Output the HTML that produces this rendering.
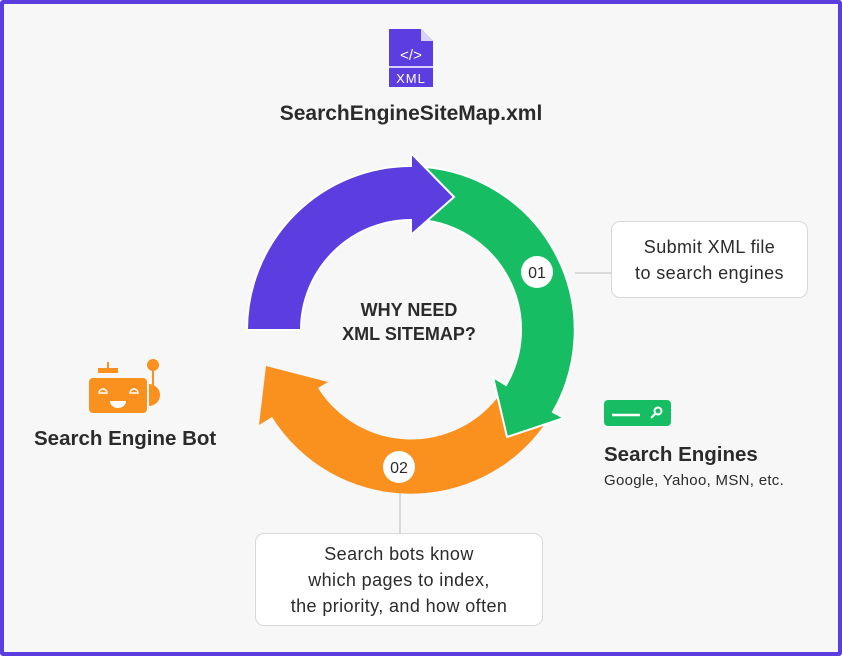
<!DOCTYPE html>
<html><head><meta charset="utf-8"><style>
html,body{margin:0;padding:0}
body{width:842px;height:656px;overflow:hidden;font-family:"Liberation Sans",sans-serif;}
.frame{position:absolute;left:0;top:0;width:834px;height:648px;border:4px solid #5b3de0;background:#f7f7f7;border-radius:3px}
.t{position:absolute;color:#2b2b2b;white-space:nowrap}
.box{position:absolute;border:1px solid #d8d8d8;border-radius:9px;background:#fff;text-align:center;color:#2b2b2b;font-size:18px;letter-spacing:0.4px;line-height:26px;box-sizing:border-box}
</style></head><body>
<div class="frame"></div>
<svg width="842" height="656" style="position:absolute;left:0;top:0">
<line x1="575" y1="273" x2="611" y2="273" stroke="#cfcfcf" stroke-width="1.5"/>
<line x1="400" y1="488" x2="400" y2="533" stroke="#cfcfcf" stroke-width="1.5"/>
<path d="M545,424 A164,164 0 0 1 272,417 L259,425 L266,366 L328,382 L318,388 A110,110 0 0 0 501,393 Z" fill="#fa901e"/>
<path d="M425,167 A164,164 0 0 1 553,412 L564,418 L507,437 L493,377 L506,385 A110,110 0 0 0 421,220 Z" fill="#17bd62" stroke="#fff" stroke-width="2" stroke-linejoin="miter"/>
<path d="M247,330 A164,164 0 0 1 411,166 L411,153 L454,197 L411,235 L411,220 A110,110 0 0 0 301,330 Z" fill="#5b3de0" stroke="#fff" stroke-width="2"/>
<circle cx="537" cy="272" r="16" fill="#fff"/>
<text x="537" y="278" text-anchor="middle" font-size="16" fill="#2b2b2b" font-family="Liberation Sans">01</text>
<circle cx="399" cy="467" r="16" fill="#fff"/>
<text x="399" y="473" text-anchor="middle" font-size="16" fill="#2b2b2b" font-family="Liberation Sans">02</text>
<text x="409" y="316" text-anchor="middle" font-size="18" font-weight="bold" fill="#2b2b2b" font-family="Liberation Sans">WHY NEED</text>
<text x="409" y="340" text-anchor="middle" font-size="18" font-weight="bold" fill="#2b2b2b" font-family="Liberation Sans">XML SITEMAP?</text>
<!-- xml icon -->
<path d="M389,29 H421 L433,41 V87 H389 Z" fill="#5b3de0"/>
<path d="M421,29 V41 H433 Z" fill="#d9d2fa"/>
<line x1="389" y1="67" x2="433" y2="67" stroke="#fff" stroke-width="1.5"/>
<text x="411" y="60" text-anchor="middle" font-size="15" fill="#fff" font-family="Liberation Sans">&lt;/&gt;</text>
<text x="411" y="83" text-anchor="middle" font-size="13" fill="#fff" font-family="Liberation Sans" letter-spacing="1">XML</text>
<!-- bot -->
<rect x="107" y="362" width="2" height="6" fill="#fa901e"/>
<rect x="98" y="368" width="20" height="5" fill="#fa901e"/>
<rect x="89" y="378" width="58" height="35" rx="4" fill="#fa901e"/>
<path d="M149,384 A11,11 0 0 1 149,406 Z" fill="#fa901e"/>
<rect x="152" y="366" width="2" height="20" fill="#fa901e"/>
<circle cx="153" cy="365" r="6" fill="#fa901e"/>
<path d="M99,393 a4,4 0 0 1 8,0 z" fill="none" stroke="#fff" stroke-width="1.5"/>
<path d="M130,393 a4,4 0 0 1 8,0 z" fill="none" stroke="#fff" stroke-width="1.5"/>
<path d="M110,401 h16 a8,7 0 0 1 -16,0 z" fill="#fff"/>
<!-- search engine icon -->
<rect x="604" y="400" width="67" height="26" rx="4" fill="#17bd62"/>
<line x1="612" y1="415" x2="640" y2="415" stroke="#fff" stroke-width="2.5"/>
<circle cx="658" cy="411" r="3.5" fill="none" stroke="#fff" stroke-width="2"/>
<line x1="655" y1="414" x2="651" y2="418" stroke="#fff" stroke-width="2"/>
</svg>
<div class="t" style="left:0;width:822px;text-align:center;top:102px;font-size:21px;font-weight:bold">SearchEngineSiteMap.xml</div>
<div class="t" style="left:34px;top:427px;font-size:20.5px;font-weight:bold">Search Engine Bot</div>
<div class="t" style="left:604px;top:443px;font-size:20.5px;font-weight:bold">Search Engines</div>
<div class="t" style="left:604px;top:472px;font-size:15px;letter-spacing:0.3px">Google, Yahoo, MSN, etc.</div>
<div class="box" style="left:611px;top:221px;width:197px;height:77px;padding-top:12px">Submit XML file<br>to search engines</div>
<div class="box" style="left:255px;top:533px;width:288px;height:93px;padding-top:7px">Search bots know<br>which pages to index,<br>the priority, and how often</div>
</body></html>
